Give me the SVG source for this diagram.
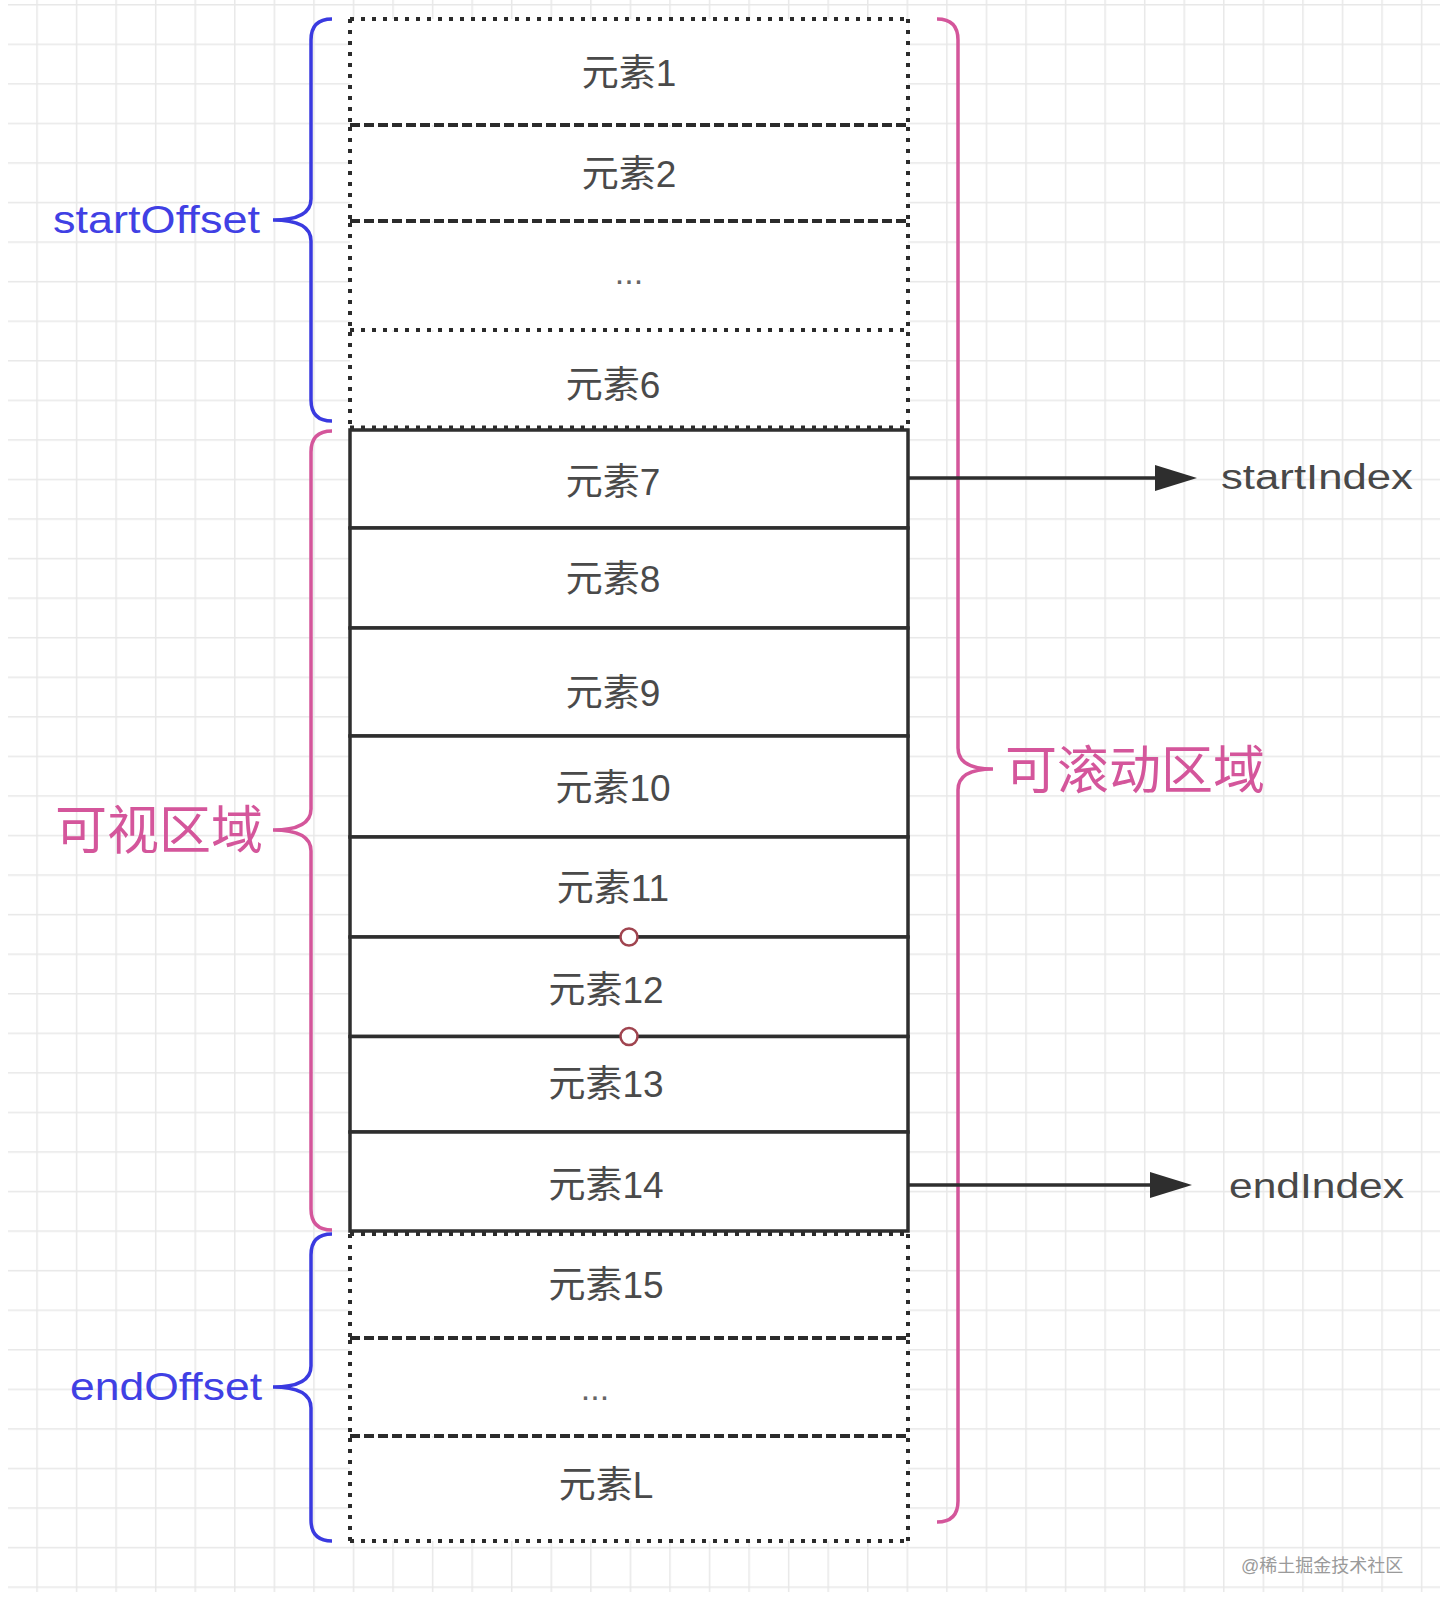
<svg xmlns="http://www.w3.org/2000/svg" width="1440" height="1614" viewBox="0 0 1440 1614">
<defs>
<pattern id="grid" x="36.25" y="4" width="39.56" height="39.56" patternUnits="userSpaceOnUse">
<path d="M0.75 0V39.56M0 0.75H39.56" stroke="#e8e8e8" stroke-width="1.5" fill="none"/>
</pattern>
<marker id="arrow" viewBox="0 0 42 26" refX="15" refY="13" markerWidth="42" markerHeight="26" markerUnits="userSpaceOnUse" orient="auto">
<path d="M0 0L42 13L0 26z" fill="#2e2e2e"/>
</marker>
<style>
.cell{fill:#fff;stroke:none}
.dot{stroke:#2b2b2b;stroke-width:4;stroke-dasharray:4 7;fill:none}
.dash{stroke:#2b2b2b;stroke-width:4;stroke-dasharray:10 4;fill:none}
.solid{fill:#fff;stroke:#2e2e2e;stroke-width:3.5}
.lbl{font-family:"Liberation Sans","Noto Sans CJK SC",sans-serif;font-size:37px;fill:#4a4a4a;text-anchor:middle}
.ell{font-family:"Liberation Sans",sans-serif;font-size:34px;fill:#666;text-anchor:middle}
.blue{stroke:#3a3ae0;stroke-width:3.5;fill:none}
.pink{stroke:#d4569b;stroke-width:3.5;fill:none}
.btxt{font-family:"Liberation Sans",sans-serif;font-size:38px;fill:#4040e4}
.ptxt{font-family:"Noto Sans CJK SC",sans-serif;font-size:52px;fill:#d4569b}
.gtxt{font-family:"Liberation Sans",sans-serif;font-size:35px;fill:#484848}
.conn{stroke:#2e2e2e;stroke-width:3.5;fill:none}
.tap{fill:#fff;stroke:#a0444f;stroke-width:2.5}
</style>
</defs>
<rect width="1440" height="1614" fill="#fff"/>
<rect x="8" y="0" width="1432" height="1592" fill="url(#grid)"/>

<!-- top dotted section -->
<g id="elem-1">
<rect class="cell" x="350" y="19" width="558" height="106"/>
<path class="dot" d="M350 19H908M350 19V125M908 19V125"/>
<path class="dash" d="M350 125H908"/>
<text class="lbl" x="629" y="86">元素1</text>
</g>
<g id="elem-2">
<rect class="cell" x="350" y="127" width="558" height="94"/>
<path class="dot" d="M350 127V221M908 127V221"/>
<path class="dash" d="M350 221H908"/>
<text class="lbl" x="629" y="187">元素2</text>
</g>
<g id="elem-gap-top">
<rect class="cell" x="350" y="223" width="558" height="107"/>
<path class="dot" d="M350 223V330M908 223V330M350 330H908"/>
<text class="ell" x="629" y="284">...</text>
</g>
<g id="elem-6">
<rect class="cell" x="350" y="332" width="558" height="96"/>
<path class="dot" d="M350 332V428M908 332V428M350 427.5H908"/>
<text class="lbl" x="613" y="398">元素6</text>
</g>

<!-- visible solid section -->
<g id="elem-7"><rect class="solid" x="350" y="430" width="558" height="98"/><text class="lbl" x="613" y="495">元素7</text></g>
<g id="elem-8"><rect class="solid" x="350" y="528" width="558" height="100"/><text class="lbl" x="613" y="592">元素8</text></g>
<g id="elem-9"><rect class="solid" x="350" y="628" width="558" height="108"/><text class="lbl" x="613" y="706">元素9</text></g>
<g id="elem-10"><rect class="solid" x="350" y="736" width="558" height="101"/><text class="lbl" x="613" y="801">元素10</text></g>
<g id="elem-11"><rect class="solid" x="350" y="837" width="558" height="100"/><text class="lbl" x="613" y="901">元素11</text></g>
<g id="elem-12"><rect class="solid" x="350" y="937" width="558" height="99.5"/><text class="lbl" x="606" y="1003">元素12</text></g>
<g id="elem-13"><rect class="solid" x="350" y="1036.5" width="558" height="95.5"/><text class="lbl" x="606" y="1097">元素13</text></g>
<g id="elem-14"><rect class="solid" x="350" y="1132" width="558" height="99"/><text class="lbl" x="606" y="1198">元素14</text></g>

<!-- bottom dotted section -->
<g id="elem-15">
<rect class="cell" x="350" y="1234" width="558" height="104"/>
<path class="dot" d="M350 1234H908M350 1234V1338M908 1234V1338"/>
<path class="dash" d="M350 1338H908"/>
<text class="lbl" x="606" y="1298">元素15</text>
</g>
<g id="elem-gap-bottom">
<rect class="cell" x="350" y="1340" width="558" height="96"/>
<path class="dot" d="M350 1340V1436M908 1340V1436"/>
<path class="dash" d="M350 1436H908"/>
<text class="ell" x="595" y="1400">...</text>
</g>
<g id="elem-L">
<rect class="cell" x="350" y="1438" width="558" height="103"/>
<path class="dot" d="M350 1438V1541M908 1438V1541M350 1541H908"/>
<text class="lbl" x="606" y="1498">元素L</text>
</g>

<!-- junction markers -->
<g id="junctions">
<circle class="tap" cx="629" cy="937" r="8.5"/>
<circle class="tap" cx="629" cy="1036.5" r="8.5"/>
</g>

<!-- braces -->
<g id="brace-startOffset">
<path class="blue" d="M332 19Q311 19 311 40L311 199Q311 220 273 220Q311 220 311 241L311 400Q311 421 332 421"/>
<text class="btxt" x="53" y="233" textLength="207" lengthAdjust="spacingAndGlyphs">startOffset</text>
</g>
<g id="brace-visible">
<path class="pink" d="M332 431Q311 431 311 452L311 809Q311 830 273 830Q311 830 311 851L311 1209Q311 1230 332 1230"/>
<text class="ptxt" x="55" y="849">可视区域</text>
</g>
<g id="brace-endOffset">
<path class="blue" d="M332 1234Q311 1234 311 1255L311 1366Q311 1387 273 1387Q311 1387 311 1408L311 1520Q311 1541 332 1541"/>
<text class="btxt" x="70" y="1400" textLength="192" lengthAdjust="spacingAndGlyphs">endOffset</text>
</g>
<g id="brace-scrollable">
<path class="pink" d="M937 19Q958 19 958 40L958 748Q958 769 993 769Q958 769 958 790L958 1501Q958 1522 937 1522"/>
<text class="ptxt" x="1005" y="789">可滚动区域</text>
</g>

<!-- connectors -->
<g id="connectors">
<path class="conn" d="M908 478H1170" marker-end="url(#arrow)"/>
<path class="conn" d="M908 1185H1165" marker-end="url(#arrow)"/>
</g>
<g id="label-startIndex"><text class="gtxt" x="1221" y="489" textLength="192" lengthAdjust="spacingAndGlyphs">startIndex</text></g>
<g id="label-endIndex"><text class="gtxt" x="1229" y="1198" textLength="175" lengthAdjust="spacingAndGlyphs">endIndex</text></g>

<text x="1241" y="1572" font-family="Liberation Sans, Noto Sans CJK SC, sans-serif" font-size="18" fill="#9a9a9a">@稀土掘金技术社区</text>
</svg>
